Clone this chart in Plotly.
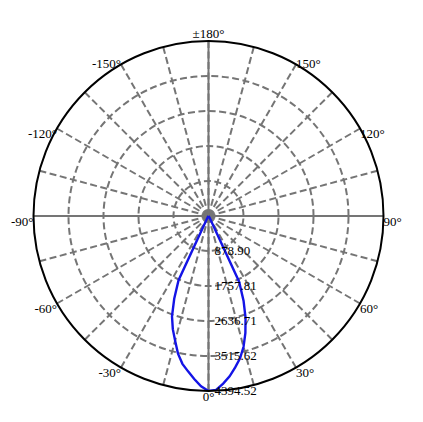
"""Polar luminous intensity plot (C0-C180 plane)."""

import plotly.graph_objects as go

# Intensity curve, angle in degrees (0 = straight down)
angles = [-90, -60, -45, -40, -35, -30, -25, -22.5, -20, -17.5, -15, -12.5, -10, -7.5, -5, -2.5,
          0, 2.5, 5, 7.5, 10, 12.5, 15, 17.5, 20, 22.5, 25, 30, 35, 40, 45, 60, 90]
intensity = [0, 0, 5, 10, 20, 70, 1780, 2250, 2680, 2980, 3240, 3540, 3770, 3935, 4110, 4280,
             4394, 4370, 4225, 4060, 3860, 3660, 3400, 3080, 2720, 2300, 1820, 80, 20, 10, 5, 0, 0]

r_max = 4394.52
r_ticks = [878.90, 1757.81, 2636.71, 3515.62, 4394.52]
r_labels = ["878.90", "1757.81", "2636.71", "3515.62", "4394.52"]

grid_theta = list(range(0, 360, 15))
label_theta = list(range(0, 360, 30))
label_text = ["0°", "30°", "60°", "90°", "120°", "150°",
              "±180°", "-150°", "-120°", "-90°", "-60°", "-30°"]
label_side = ["bottom center", "bottom right", "bottom right", "bottom right", "bottom right",
              "middle right", "top center", "middle left", "bottom left", "bottom left",
              "bottom left", "bottom left"]

# solid main axes (0-180 and 90-270)
axis_pairs = [[0, 0, 180], [90, 90, 270]]

FONT = "Liberation Serif, Times New Roman, serif"
GRID = "#757575"

fig = go.Figure()

for th in axis_pairs:
    fig.add_trace(go.Scatterpolar(
        r=[r_max, 0, r_max], theta=th, mode="lines",
        line=dict(color=GRID, width=2), showlegend=False, hoverinfo="skip",
    ))

fig.add_trace(go.Scatterpolar(
    r=intensity, theta=angles, mode="lines",
    line=dict(color="#1414e6", width=2.4),
    showlegend=False,
))

# angle labels on the rim
fig.add_trace(go.Scatterpolar(
    r=[r_max] * len(label_theta), theta=label_theta, mode="text",
    text=label_text, textposition=label_side, cliponaxis=False,
    textfont=dict(family=FONT, size=13, color="black"),
    showlegend=False, hoverinfo="skip",
))

fig.update_layout(
    width=423, height=422,
    margin=dict(l=0, r=0, t=0, b=0, autoexpand=False),
    paper_bgcolor="white",
    font=dict(family=FONT, size=13, color="black"),
    polar=dict(
        domain=dict(x=[0.0603, 0.8877], y=[0.0924, 0.9218]),
        bgcolor="white",
        angularaxis=dict(
            rotation=-90, direction="counterclockwise",
            tickmode="array", tickvals=grid_theta, showticklabels=False,
            ticks="", showline=True, linecolor="black", linewidth=2,
            gridcolor=GRID, gridwidth=2, griddash="7px,3.5px",
        ),
        radialaxis=dict(
            range=[0, r_max], angle=-90, tickangle=-90, side="counterclockwise",
            tickmode="array", tickvals=r_ticks, ticktext=r_labels,
            ticks="outside", ticklen=3, tickcolor="rgba(0,0,0,0)", showline=False,
            gridcolor=GRID, gridwidth=2, griddash="7px,3.5px",
            tickfont=dict(family=FONT, size=13, color="black"),
        ),
    ),
)

fig.write_html("out.html")
